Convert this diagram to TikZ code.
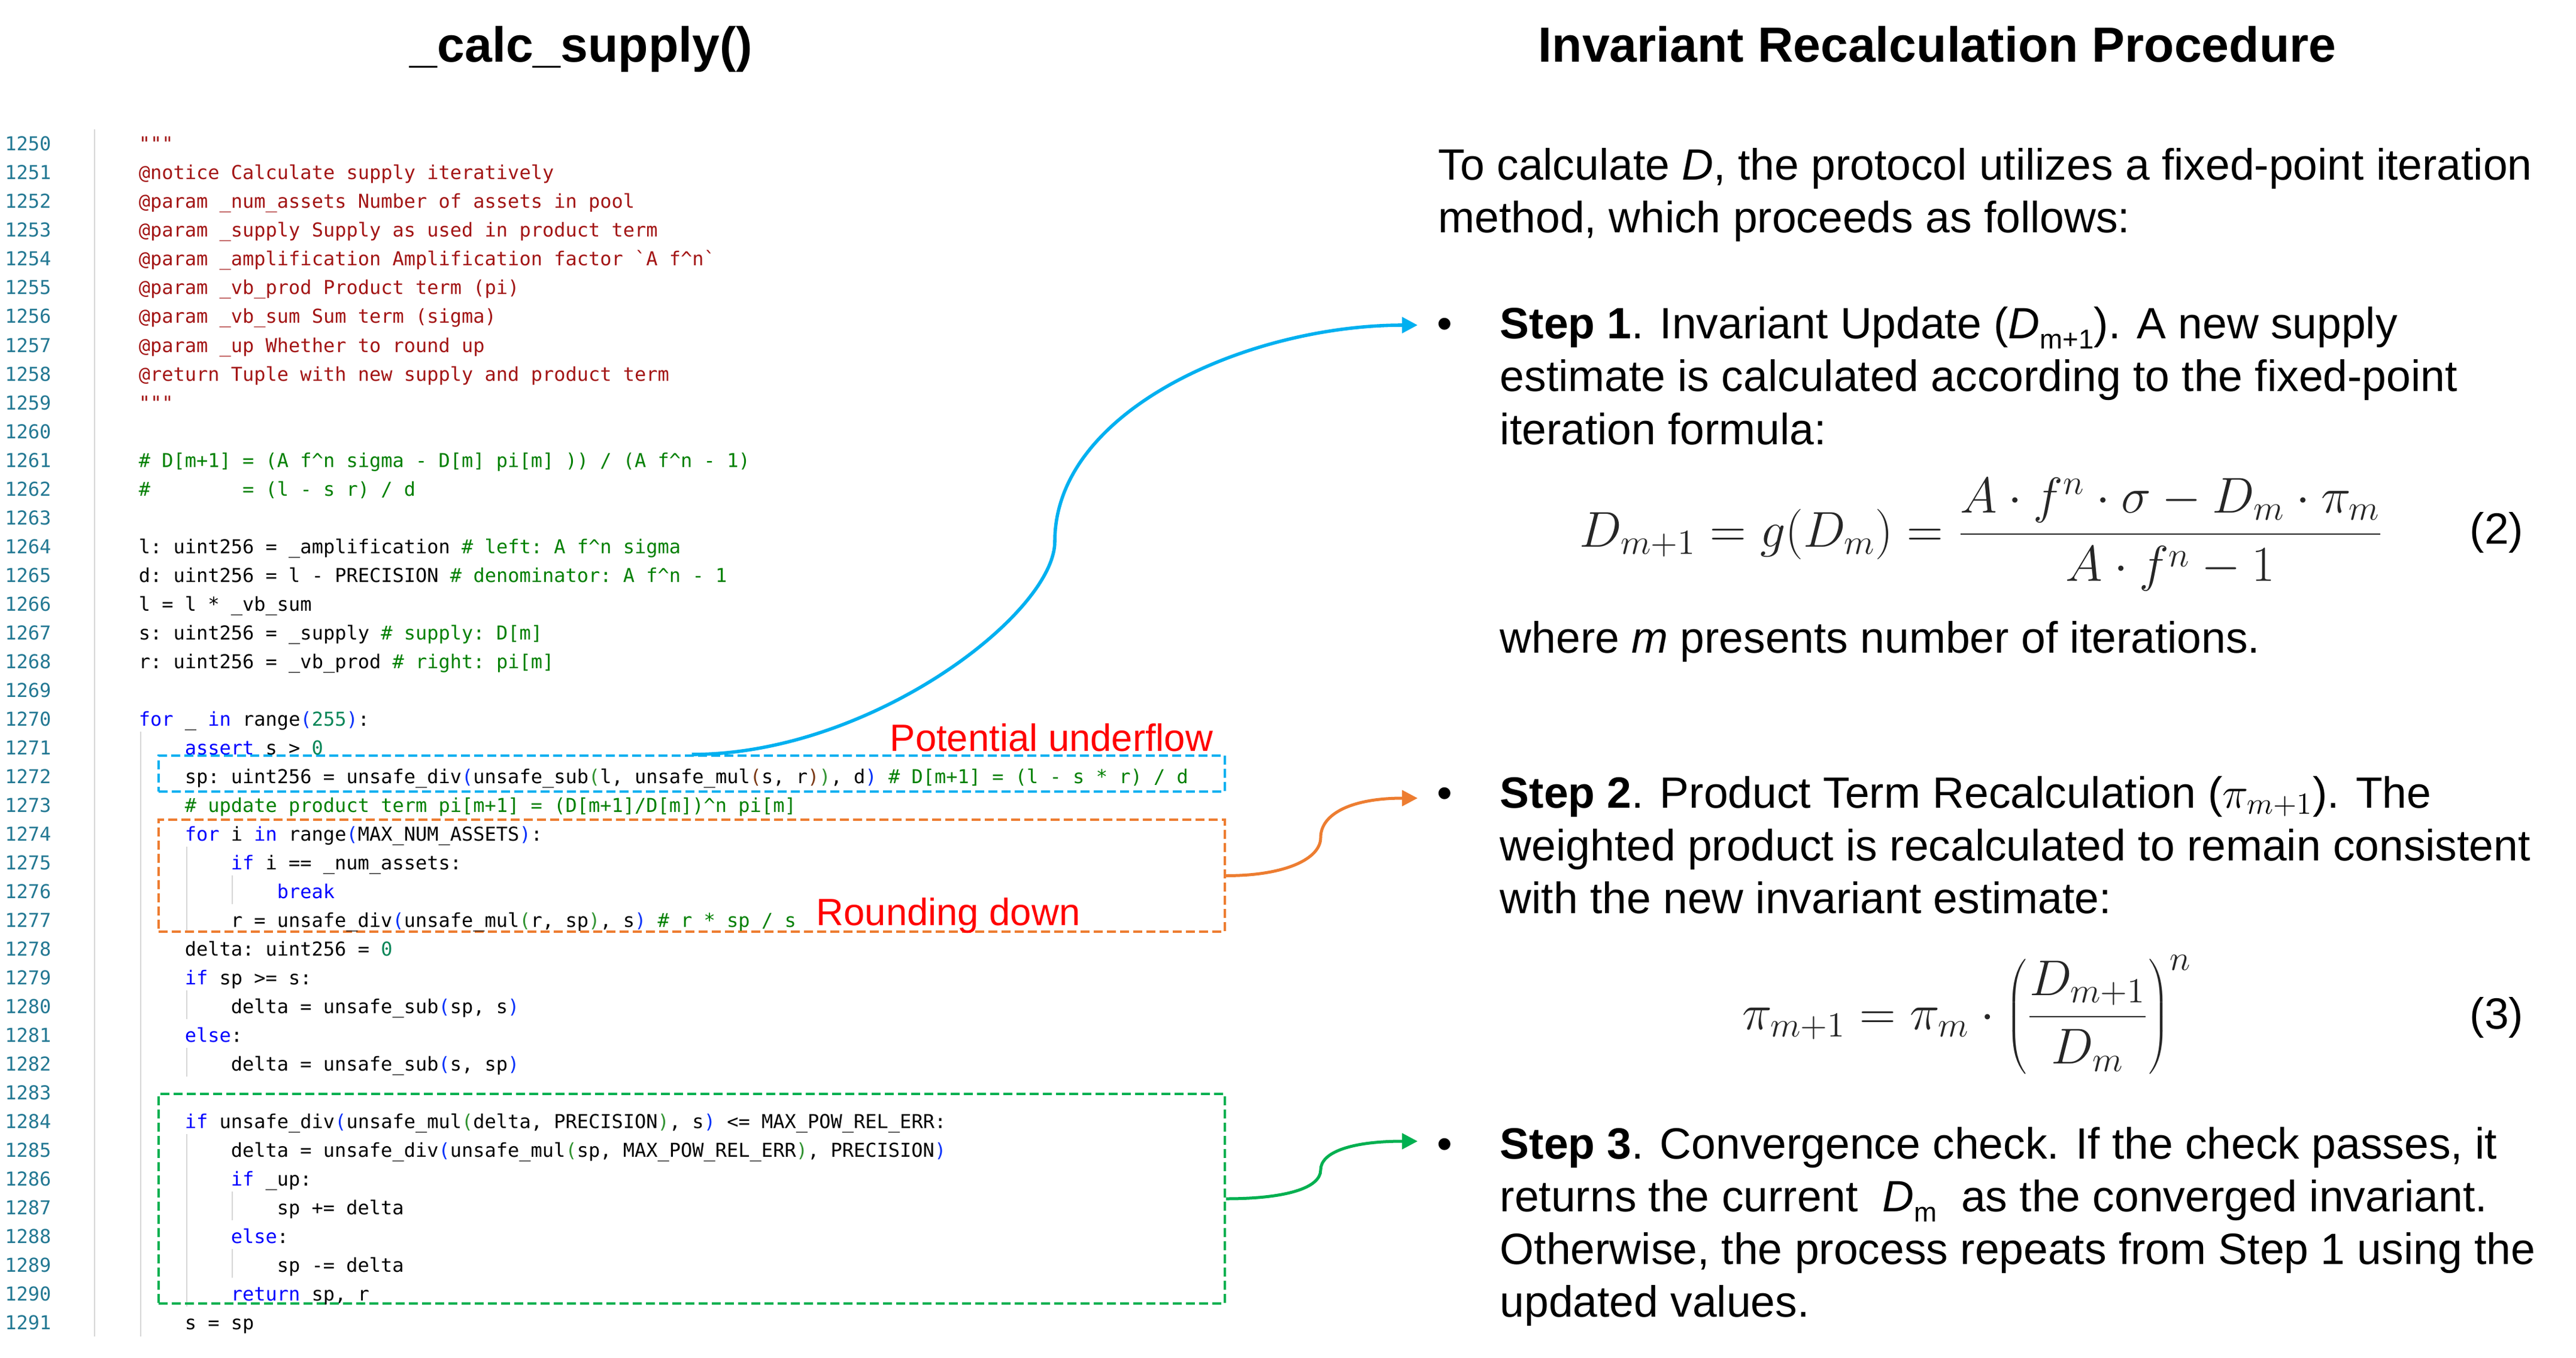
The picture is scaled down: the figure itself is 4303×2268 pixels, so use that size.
\RequirePackage{fix-cm}
\documentclass[tikz,border=0pt]{standalone}
\usepackage{fontspec}
\setmonofont{DejaVu Sans Mono}
\newfontfamily\arialf{Liberation Sans}
\usetikzlibrary{arrows.meta}
\definecolor{cdoc}{HTML}{A31515}
\definecolor{ccmt}{HTML}{008000}
\definecolor{ckw}{HTML}{0000FF}
\definecolor{cnum}{HTML}{098658}
\definecolor{cbA}{HTML}{0431FA}
\definecolor{cbB}{HTML}{319331}
\definecolor{cbC}{HTML}{7B3814}
\definecolor{clno}{HTML}{237893}
\definecolor{cguide}{HTML}{D6D6D6}
\definecolor{hlblue}{HTML}{00B0F0}
\definecolor{hlorange}{HTML}{ED7D31}
\definecolor{hlgreen}{HTML}{00B050}
\definecolor{hlred}{HTML}{FF0000}
\newcommand\Kw[1]{\textcolor{ckw}{#1}}
\newcommand\Cm[1]{\textcolor{ccmt}{#1}}
\newcommand\Nm[1]{\textcolor{cnum}{#1}}
\newcommand\Ba[1]{\textcolor{cbA}{#1}}
\newcommand\Bb[1]{\textcolor{cbB}{#1}}
\newcommand\Bc[1]{\textcolor{cbC}{#1}}
\newcommand\Dc[1]{\textcolor{cdoc}{#1}}
\newcommand\cu{\textasciicircum}
\newcommand\lsub[1]{\raisebox{-4.25pt}{\fontsize{11.4}{12}\selectfont #1}}
\tikzset{
  code/.style={anchor=base west, inner sep=0pt, font=\ttfamily\fontsize{8}{9.6}\selectfont},
  lno/.style={code, text=clno},
  rtext/.style={anchor=base west, inner sep=0pt, font=\arialf\fontsize{18.3}{21.9}\selectfont},
  bul/.style={anchor=base, inner sep=0pt, font=\arialf\fontsize{18.3}{21.9}\selectfont},
  ttl/.style={anchor=base, inner sep=0pt, font=\arialf\bfseries\fontsize{20.6}{24}\selectfont},
  lbl/.style={anchor=base west, inner sep=0pt, text=hlred, font=\arialf\fontsize{15.85}{19}\selectfont},
  eqn/.style={anchor=base west, inner sep=0pt, text=black!85, font=\fontsize{21}{25}\selectfont},
  hlbox/.style={draw=#1, line width=1pt, dash pattern=on 3.75pt off 1.75pt, inner sep=0pt, minimum width=445.25pt, rectangle},
  conn/.style={draw=#1, -{Triangle[length=6.5pt,width=6.5pt]}},
  guide/.style={draw=cguide, line width=0.5pt},
}
\begin{document}
\begin{tikzpicture}[x=0.25pt,y=-0.25pt]
\fill[white] (0,0) rectangle (4303,2268);
\useasboundingbox (0,0) rectangle (4303,2268);

% titles
\node[ttl] (title1) at (971,104) {\_calc\_supply()};
\node[ttl] (title2) at (3236,104) {Invariant Recalculation Procedure};

% indentation guides
\draw[guide] (158,216) -- (158,2232);
\draw[guide] (235,1222) -- (235,2232);
\draw[guide] (312,1414) -- (312,1558);
\draw[guide] (312,1654) -- (312,1702);
\draw[guide] (312,1750) -- (312,1798);
\draw[guide] (312,1894) -- (312,2182);
\draw[guide] (388,1462) -- (388,1510);
\draw[guide] (388,1990) -- (388,2038);
\draw[guide] (388,2086) -- (388,2134);

% highlight boxes
\node[hlbox=hlblue, minimum height=15pt] (bluebox) at (1155.5,1292) {};
\node[hlbox=hlorange, minimum height=46.75pt] (orangebox) at (1155.5,1462.5) {};
\node[hlbox=hlgreen, minimum height=87.5pt] (greenbox) at (1155.5,2002) {};

% line numbers
\node[lno] (n0) at (7.5,252) {1250};
\node[lno] (n1) at (7.5,300) {1251};
\node[lno] (n2) at (7.5,348) {1252};
\node[lno] (n3) at (7.5,396) {1253};
\node[lno] (n4) at (7.5,444) {1254};
\node[lno] (n5) at (7.5,492) {1255};
\node[lno] (n6) at (7.5,540) {1256};
\node[lno] (n7) at (7.5,588) {1257};
\node[lno] (n8) at (7.5,636) {1258};
\node[lno] (n9) at (7.5,684) {1259};
\node[lno] (n10) at (7.5,732) {1260};
\node[lno] (n11) at (7.5,780) {1261};
\node[lno] (n12) at (7.5,828) {1262};
\node[lno] (n13) at (7.5,876) {1263};
\node[lno] (n14) at (7.5,924) {1264};
\node[lno] (n15) at (7.5,972) {1265};
\node[lno] (n16) at (7.5,1020) {1266};
\node[lno] (n17) at (7.5,1068) {1267};
\node[lno] (n18) at (7.5,1116) {1268};
\node[lno] (n19) at (7.5,1164) {1269};
\node[lno] (n20) at (7.5,1212) {1270};
\node[lno] (n21) at (7.5,1260) {1271};
\node[lno] (n22) at (7.5,1308) {1272};
\node[lno] (n23) at (7.5,1356) {1273};
\node[lno] (n24) at (7.5,1404) {1274};
\node[lno] (n25) at (7.5,1452) {1275};
\node[lno] (n26) at (7.5,1500) {1276};
\node[lno] (n27) at (7.5,1548) {1277};
\node[lno] (n28) at (7.5,1596) {1278};
\node[lno] (n29) at (7.5,1644) {1279};
\node[lno] (n30) at (7.5,1692) {1280};
\node[lno] (n31) at (7.5,1740) {1281};
\node[lno] (n32) at (7.5,1788) {1282};
\node[lno] (n33) at (7.5,1836) {1283};
\node[lno] (n34) at (7.5,1884) {1284};
\node[lno] (n35) at (7.5,1932) {1285};
\node[lno] (n36) at (7.5,1980) {1286};
\node[lno] (n37) at (7.5,2028) {1287};
\node[lno] (n38) at (7.5,2076) {1288};
\node[lno] (n39) at (7.5,2124) {1289};
\node[lno] (n40) at (7.5,2172) {1290};
\node[lno] (n41) at (7.5,2220) {1291};

% code lines
\node[code] (c0) at (231,252) {\Dc{"""}};
\node[code] (c1) at (231,300) {\Dc{@notice Calculate supply iteratively}};
\node[code] (c2) at (231,348) {\Dc{@param \_num\_assets Number of assets in pool}};
\node[code] (c3) at (231,396) {\Dc{@param \_supply Supply as used in product term}};
\node[code] (c4) at (231,444) {\Dc{@param \_amplification Amplification factor `A f\cu{}n`}};
\node[code] (c5) at (231,492) {\Dc{@param \_vb\_prod Product term (pi)}};
\node[code] (c6) at (231,540) {\Dc{@param \_vb\_sum Sum term (sigma)}};
\node[code] (c7) at (231,588) {\Dc{@param \_up Whether to round up}};
\node[code] (c8) at (231,636) {\Dc{@return Tuple with new supply and product term}};
\node[code] (c9) at (231,684) {\Dc{"""}};
\node[code] (c11) at (231,780) {\Cm{\# D[m+1] = (A f\cu{}n sigma - D[m] pi[m] )) / (A f\cu{}n - 1)}};
\node[code] (c12) at (231,828) {\Cm{\#\hspace*{38.53pt}= (l - s r) / d}};
\node[code] (c14) at (231,924) {l: uint256 = \_amplification \Cm{\# left: A f\cu{}n sigma}};
\node[code] (c15) at (231,972) {d: uint256 = l - PRECISION \Cm{\# denominator: A f\cu{}n - 1}};
\node[code] (c16) at (231,1020) {l = l * \_vb\_sum};
\node[code] (c17) at (231,1068) {s: uint256 = \_supply \Cm{\# supply: D[m]}};
\node[code] (c18) at (231,1116) {r: uint256 = \_vb\_prod \Cm{\# right: pi[m]}};
\node[code] (c20) at (231,1212) {\Kw{for} \_ \Kw{in} range\Ba{(}\Nm{255}\Ba{)}:};
\node[code] (c21) at (308,1260) {\Kw{assert} s > \Nm{0}};
\node[code] (c22) at (308,1308) {sp: uint256 = unsafe\_div\Ba{(}unsafe\_sub\Bb{(}l, unsafe\_mul\Bc{(}s, r\Bc{)}\Bb{)}, d\Ba{)} \Cm{\# D[m+1] = (l - s * r) / d}};
\node[code] (c23) at (308,1356) {\Cm{\# update product term pi[m+1] = (D[m+1]/D[m])\cu{}n pi[m]}};
\node[code] (c24) at (308,1404) {\Kw{for} i \Kw{in} range\Ba{(}MAX\_NUM\_ASSETS\Ba{)}:};
\node[code] (c25) at (385,1452) {\Kw{if} i == \_num\_assets:};
\node[code] (c26) at (462,1500) {\Kw{break}};
\node[code] (c27) at (385,1548) {r = unsafe\_div\Ba{(}unsafe\_mul\Bb{(}r, sp\Bb{)}, s\Ba{)} \Cm{\# r * sp / s}};
\node[code] (c28) at (308,1596) {delta: uint256 = \Nm{0}};
\node[code] (c29) at (308,1644) {\Kw{if} sp >= s:};
\node[code] (c30) at (385,1692) {delta = unsafe\_sub\Ba{(}sp, s\Ba{)}};
\node[code] (c31) at (308,1740) {\Kw{else}:};
\node[code] (c32) at (385,1788) {delta = unsafe\_sub\Ba{(}s, sp\Ba{)}};
\node[code] (c34) at (308,1884) {\Kw{if} unsafe\_div\Ba{(}unsafe\_mul\Bb{(}delta, PRECISION\Bb{)}, s\Ba{)} <= MAX\_POW\_REL\_ERR:};
\node[code] (c35) at (385,1932) {delta = unsafe\_div\Ba{(}unsafe\_mul\Bb{(}sp, MAX\_POW\_REL\_ERR\Bb{)}, PRECISION\Ba{)}};
\node[code] (c36) at (385,1980) {\Kw{if} \_up:};
\node[code] (c37) at (462,2028) {sp += delta};
\node[code] (c38) at (385,2076) {\Kw{else}:};
\node[code] (c39) at (462,2124) {sp -= delta};
\node[code] (c40) at (385,2172) {\Kw{return} sp, r};
\node[code] (c41) at (308,2220) {s = sp};

% red labels
\node[lbl] (lab1) at (1486,1254) {Potential underflow};
\node[lbl] (lab2) at (1363,1545) {Rounding down};

% right text
\node[rtext] (p1a) at (2402,301) {To calculate \textit{D}, the protocol utilizes a fixed-point iteration};
\node[rtext] (p1b) at (2402,389) {method, which proceeds as follows:};

\node[bul] (bu1) at (2413,566) {\textbullet};
\node[rtext] (s1a) at (2505,566) {\textbf{Step 1}. Invariant Update (\textit{D}\lsub{m+1}). A new supply};
\node[rtext] (s1b) at (2505,654) {estimate is calculated according to the fixed-point};
\node[rtext] (s1c) at (2505,742) {iteration formula:};
\node[eqn] (eq2) at (2638,913) {$\displaystyle D_{m+1} = g(D_m) = \frac{A\cdot f^n\cdot\sigma - D_m\cdot\pi_m}{A\cdot f^n - 1}$};
\node[rtext] (eqno2) at (4125,908) {(2)};
\node[rtext] (s1d) at (2505,1090) {where \textit{m} presents number of iterations.};

\node[bul] (bu2) at (2413,1349) {\textbullet};
\node[rtext] (s2a) at (2505,1349) {\textbf{Step 2}. Product Term Recalculation ($\pi_{m+1}$). The};
\node[rtext] (s2b) at (2505,1437) {weighted product is recalculated to remain consistent};
\node[rtext] (s2c) at (2505,1525) {with the new invariant estimate:};
\node[eqn] (eq3) at (2910,1719) {$\displaystyle \pi_{m+1} = \pi_m\cdot\left(\rule[-19.75pt]{0pt}{50pt}\frac{D_{m+1}}{D_m}\right)^{n}$};
\node[rtext] (eqno3) at (4125,1718) {(3)};

\node[bul] (bu3) at (2413,1935) {\textbullet};
\node[rtext] (s3a) at (2505,1935) {\textbf{Step 3}. Convergence check. If the check passes, it};
\node[rtext] (s3b) at (2505,2023) {returns the current\ \ \textit{D}\lsub{m}\ \ as the converged invariant.};
\node[rtext] (s3c) at (2505,2111) {Otherwise, the process repeats from Step 1 using the};
\node[rtext] (s3d) at (2505,2199) {updated values.};

% connectors
\coordinate (bmid) at (1762,904);
\coordinate (tip1) at (2368,543);
\coordinate (omid) at (2206,1399);
\coordinate (tip2) at (2368,1333);
\coordinate (gmid) at (2206,1954);
\coordinate (tip3) at (2368,1906);
\draw[conn=hlblue, line width=1.4pt] (bluebox.north) .. controls +(300,0) and +(0,120) .. (bmid) .. controls +(0,-220) and +(-280,0) .. (tip1);
\draw[conn=hlorange, line width=1.25pt] (orangebox.east) .. controls +(100,0) and +(0,35) .. (omid) .. controls +(0,-40) and +(-110,0) .. (tip2);
\draw[conn=hlgreen, line width=1.25pt] (greenbox.east) .. controls +(100,0) and +(0,30) .. (gmid) .. controls +(0,-30) and +(-110,0) .. (tip3);
\end{tikzpicture}
\end{document}
